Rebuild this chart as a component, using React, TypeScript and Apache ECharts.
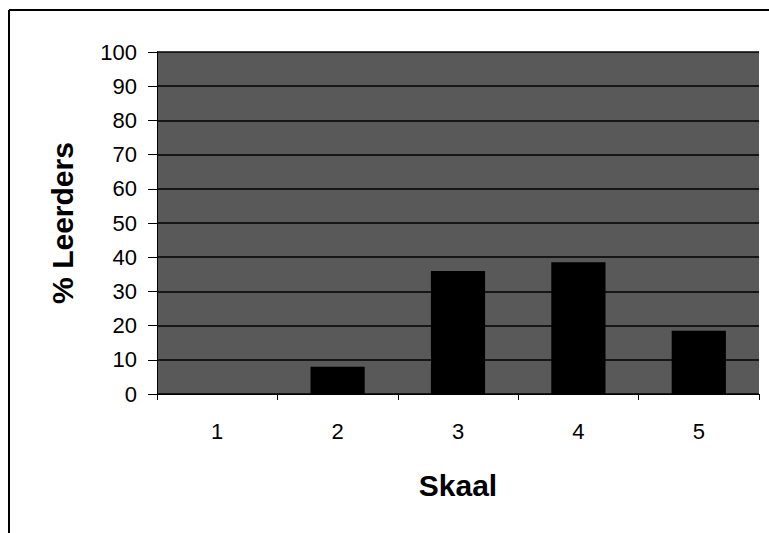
import React, { useEffect, useRef } from "react";
import * as echarts from "echarts";

const categories = ["1", "2", "3", "4", "5"];
const values = [0, 8, 36, 38.5, 18.5];
const yTitle = "% Leerders";
const xTitle = "Skaal";

export default function App() {
  const ref = useRef<HTMLDivElement>(null);
  useEffect(() => {
    const chart = echarts.init(ref.current!, undefined, { renderer: "svg" });
    const font = "'Liberation Sans', Arial, sans-serif";
    chart.setOption({
      animation: false,
      backgroundColor: "#ffffff",
      grid: {
        left: 157,
        right: 10,
        top: 52,
        bottom: 139,
        show: true,
        backgroundColor: "#595959",
        borderWidth: 0,
      },
      graphic: [
        { type: "line", shape: { x1: 9, y1: 10, x2: 769, y2: 10 }, style: { stroke: "#000", lineWidth: 2 } },
        { type: "line", shape: { x1: 9, y1: 10, x2: 9, y2: 533 }, style: { stroke: "#000", lineWidth: 2 } },
      ],
      xAxis: {
        type: "category",
        data: categories,
        name: xTitle,
        nameLocation: "middle",
        nameGap: 76,
        nameTextStyle: { fontFamily: font, fontWeight: "bold", fontSize: 30, color: "#000" },
        axisLine: { show: true, lineStyle: { color: "#000", width: 1 } },
        axisTick: { show: true, alignWithLabel: false, length: 6, lineStyle: { color: "#000" } },
        axisLabel: { margin: 26, fontFamily: font, fontSize: 22, color: "#000" },
        splitLine: { show: false },
      },
      yAxis: {
        type: "value",
        min: 0,
        max: 100,
        interval: 10,
        name: yTitle,
        nameLocation: "middle",
        nameGap: 80,
        nameRotate: 90,
        nameTextStyle: { fontFamily: font, fontWeight: "bold", fontSize: 30, color: "#000" },
        axisLine: { show: true, lineStyle: { color: "#000", width: 1 } },
        axisTick: { show: true, length: 9, lineStyle: { color: "#000" } },
        axisLabel: { margin: 20, fontFamily: font, fontSize: 22, color: "#000" },
        splitLine: { show: true, lineStyle: { color: "#000", width: 1.5 } },
      },
      series: [
        {
          type: "bar",
          data: values,
          barWidth: "45%",
          itemStyle: { color: "#000" },
        },
      ],
    });
    return () => chart.dispose();
  }, []);
  return <div ref={ref} style={{ position: "fixed", left: 0, top: 0, width: 769, height: 533 }} />;
}
